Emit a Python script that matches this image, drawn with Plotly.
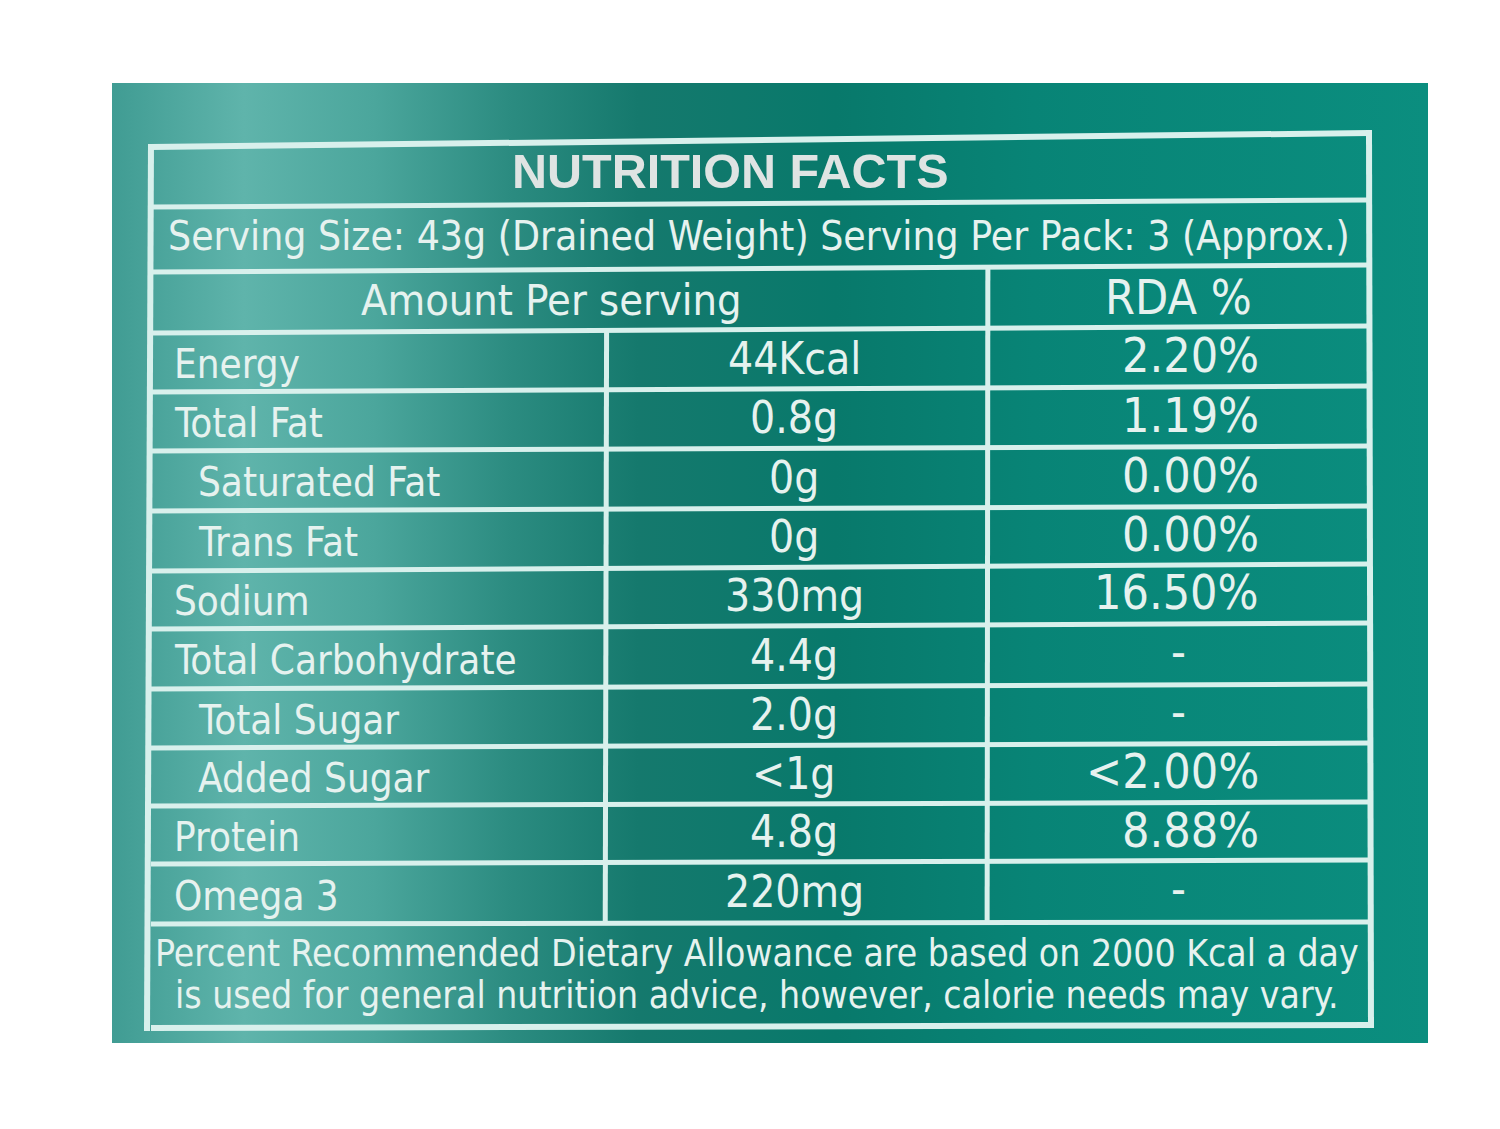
"""Nutrition facts panel redrawn with Plotly shapes and annotations."""
import plotly.graph_objects as go

# ---- table content -------------------------------------------------------
title = "NUTRITION FACTS"
serving_text = "Serving Size: 43g (Drained Weight) Serving Per Pack: 3 (Approx.)"
header_left = "Amount Per serving"
header_right = "RDA %"

nutrients = ["Energy", "Total Fat", "Saturated Fat", "Trans Fat", "Sodium",
             "Total Carbohydrate", "Total Sugar", "Added Sugar", "Protein", "Omega 3"]
amounts = ["44Kcal", "0.8g", "0g", "0g", "330mg", "4.4g", "2.0g", "<1g", "4.8g", "220mg"]
rda = ["2.20%", "1.19%", "0.00%", "0.00%", "16.50%", "-", "-", "<2.00%", "8.88%", "-"]
sub_items = ["Saturated Fat", "Trans Fat", "Total Sugar", "Added Sugar"]

footer_lines = [
    "Percent Recommended Dietary Allowance are based on 2000 Kcal a day",
    "is used for general nutrition advice, however, calorie needs may vary.",
]

# ---- geometry (pixels, y downwards) --------------------------------------
W, H = 1500, 1129
PAGE_OFFSET = 8  # default body margin of the html page
PANEL = (112, 83, 1428, 1043)
# horizontal rules, measured at the left and right edge of the table
rules_left = [147, 207, 272, 333, 392, 451, 511, 571, 629, 689, 748, 806, 864, 924, 1028]
rules_right = [133, 200, 265, 326, 386, 446, 506, 564, 623, 684, 743, 802, 860, 922, 1025]
TABLE_L = (151, 147)   # x at top, x at bottom
TABLE_R = (1369, 1371)
COL1 = (607, 605)
COL2 = (988, 987)

LINE = "#d8f0ec"
TEXT = "#e6f2ef"
BODY_FONT = "DejaVu Sans Condensed, DejaVu Sans"
TITLE_FONT = "Liberation Sans, Arial"

fig = go.Figure()

# teal panel with a horizontal gradient
x0, y0, x1, y1 = PANEL
fig.add_trace(go.Scatter(
    x=[x0, x1, x1, x0, x0], y=[y0, y0, y1, y1, y0],
    mode="lines", fill="toself", line=dict(width=0),
    fillgradient=dict(
        type="horizontal",
        colorscale=[
            [0.0, "#409c93"], [0.1, "#5fb4ab"], [0.2, "#4ba69c"],
            [0.3, "#2c8c81"], [0.4, "#15796d"], [0.55, "#08796b"],
            [0.7, "#088476"], [1.0, "#0b8e7f"],
        ],
    ),
    hoverinfo="skip", showlegend=False,
))


def y_at(i, x):
    """y of horizontal rule i at position x (rules are slightly tilted)."""
    l, r = TABLE_L[0], TABLE_R[0]
    t = (x - l) / (r - l)
    return rules_left[i] + t * (rules_right[i] - rules_left[i])


def x_on(col, y):
    t = (y - rules_left[0]) / (rules_left[-1] - rules_left[0])
    return col[0] + t * (col[1] - col[0])


shapes = []
n = len(rules_left)
for i in range(n):
    width = 6 if i in (0, n - 1) else 5
    shapes.append(dict(type="line", x0=TABLE_L[0], x1=TABLE_R[0],
                       y0=rules_left[i], y1=rules_right[i],
                       line=dict(color=LINE, width=width)))
# outer verticals
for col in (TABLE_L, TABLE_R):
    shapes.append(dict(type="line", x0=col[0], x1=col[1],
                       y0=y_at(0, col[0]) - 3, y1=y_at(n - 1, col[1]) + 3,
                       line=dict(color=LINE, width=6)))
# column dividers
first_row = 3
last_row = n - 2
for col, start in ((COL1, first_row), (COL2, 2)):
    ya = y_at(start, col[0])
    yb = y_at(last_row, col[1])
    shapes.append(dict(type="line", x0=x_on(col, ya), x1=x_on(col, yb),
                       y0=ya, y1=yb, line=dict(color=LINE, width=5)))

annotations = []


def label(text, x, y, size, anchor="center", family=BODY_FONT,
          color=TEXT, bold=False):
    annotations.append(dict(
        text=f"<b>{text}</b>" if bold else text, x=x, y=y,
        xref="x", yref="y", xanchor=anchor, yanchor="middle",
        showarrow=False, font=dict(family=family, size=size, color=color),
    ))


def row_mid(i, x):
    return (y_at(i, x) + y_at(i + 1, x)) / 2


label(title, 730, row_mid(0, 730) - 1, 48.5, family=TITLE_FONT,
      color="#dfe4e3", bold=True)
label(serving_text, 759, row_mid(1, 759), 40.5)
label(header_left, 551, row_mid(2, 551), 43)
label(header_right, 1178, row_mid(2, 1178), 48)

for k, name in enumerate(nutrients):
    r = first_row + k
    indent = 196 if name in sub_items else 172
    label(name, indent, row_mid(r, 300) + 2, 40, anchor="left")
    label(amounts[k], 794, row_mid(r, 794) - 1, 44)
    if rda[k] == "-":
        label(rda[k], 1178, row_mid(r, 1178) - 2, 46)
    else:
        label(rda[k], 1261, row_mid(r, 1200) - 2, 48, anchor="right")

label(footer_lines[0], 757, 953, 37)
label(footer_lines[1], 757, 995, 37)

fig.update_layout(
    width=W - PAGE_OFFSET, height=H - PAGE_OFFSET,
    margin=dict(l=0, r=0, t=0, b=0),
    paper_bgcolor="white", plot_bgcolor="white",
    xaxis=dict(range=[PAGE_OFFSET, W], visible=False, fixedrange=True),
    yaxis=dict(range=[H, PAGE_OFFSET], visible=False, fixedrange=True),
    shapes=shapes, annotations=annotations,
    showlegend=False,
)

fig.write_html("out.html")
